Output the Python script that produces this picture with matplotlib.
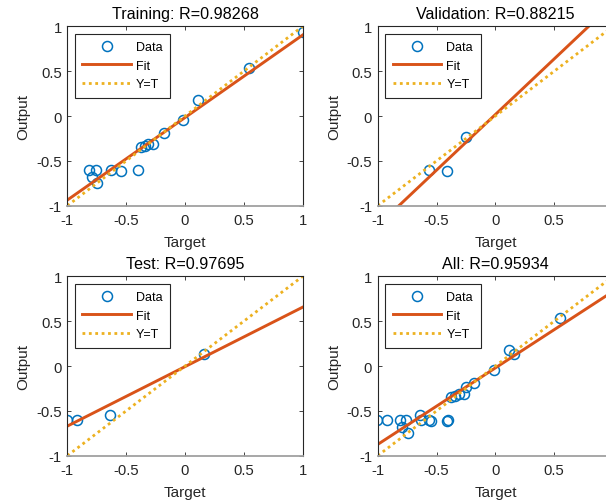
# -*- coding: utf-8 -*-
# regression plots (training / validation / test / all) for the network outputs

import numpy as np
import matplotlib
matplotlib.use('Agg')
from matplotlib import pyplot

# targets and network outputs per subset
train_t = [1.0, 0.546, 0.113, -0.014, -0.178, -0.27, -0.312, -0.34, -0.376,
           -0.402, -0.546, -0.631, -0.756, -0.813, -0.79, -0.745]
train_y = [0.94, 0.533, 0.173, -0.041, -0.189, -0.316, -0.308, -0.333, -0.345,
           -0.604, -0.608, -0.604, -0.604, -0.604, -0.678, -0.752]

val_t = [-0.252, -0.562, -0.414]
val_y = [-0.233, -0.604, -0.608]

test_t = [0.161, -0.637, -0.92, -1.005]
test_y = [0.133, -0.541, -0.607, -0.607]

# linear fits  output ~ slope*target + offset
fit_slope = [0.92, 1.24, 0.663, 0.853]
fit_offset = [-0.017, 0.017, -0.007, -0.021]

titles = ['Training: R=0.98268', 'Validation: R=0.88215',
          'Test: R=0.97695', 'All: R=0.95934']
ticks = [-1, -0.5, 0, 0.5, 1]
tick_labels = ['-1', '-0.5', '0', '0.5', '1']

all_t = train_t + val_t + test_t
all_y = train_y + val_y + test_y
subsets = [(train_t, train_y), (val_t, val_y), (test_t, test_y), (all_t, all_y)]

c_data = '#0072BD'
c_fit = '#D95319'
c_yt = '#EDB120'
c_axis = '#262626'

pyplot.rcParams['font.family'] = ['Liberation Sans', 'DejaVu Sans']

fig = pyplot.figure(figsize=(6.06, 5.02), dpi=100)

w, h = 0.3884, 0.3574
positions = [(0.1111, 0.5882), (0.6233, 0.5882), (0.1111, 0.0902), (0.6233, 0.0902)]

for i, (x0, y0) in enumerate(positions):
    ax = fig.add_axes([x0, y0, w, h])
    t, y = subsets[i]
    ax.plot(t, y, 'o', mfc='none', mec=c_data, ms=7.2, mew=1.1, label='Data')
    xs = np.array([-1.0, 1.0])
    ax.plot(xs, fit_slope[i] * xs + fit_offset[i], '-', color=c_fit, lw=2.1, label='Fit')
    ax.plot(xs, xs, color=c_yt, lw=2.0, ls=(0, (1, 1.3)), label='Y=T')

    ax.set_xlim(-1, 1)
    ax.set_ylim(-1, 1)
    ax.set_xticks(ticks)
    # right column runs past the figure edge, so its last label is not drawn
    xl = list(tick_labels)
    if i % 2 == 1:
        xl[-1] = ''
    ax.set_xticklabels(xl)
    ax.set_yticks(ticks)
    ax.set_yticklabels(tick_labels)
    ax.tick_params(direction='in', length=3, width=0.6, colors=c_axis,
                   labelsize=10.7, top=True, right=True, pad=5)
    ax.tick_params(axis='y', pad=4)
    for s in ['left', 'top', 'right']:
        ax.spines[s].set_color(c_axis)
        ax.spines[s].set_linewidth(0.8)
    ax.spines['bottom'].set_color('#a0a0a0')
    ax.spines['bottom'].set_linewidth(1.3)

    ax.set_title(titles[i], fontsize=11.6, color='#000000', pad=6)
    ax.set_xlabel('Target', fontsize=11, color=c_axis, labelpad=6)
    ax.set_ylabel('Output', fontsize=11, color=c_axis, labelpad=4)

    leg = ax.legend(loc='upper left', fontsize=9, frameon=True, fancybox=False,
                    framealpha=1, edgecolor=c_axis, handlelength=3.9,
                    handletextpad=0.4, labelspacing=0.52, borderpad=0.6,
                    borderaxespad=0.6, numpoints=1)
    leg.get_frame().set_linewidth(0.8)

pyplot.savefig('out.png', dpi=100)
